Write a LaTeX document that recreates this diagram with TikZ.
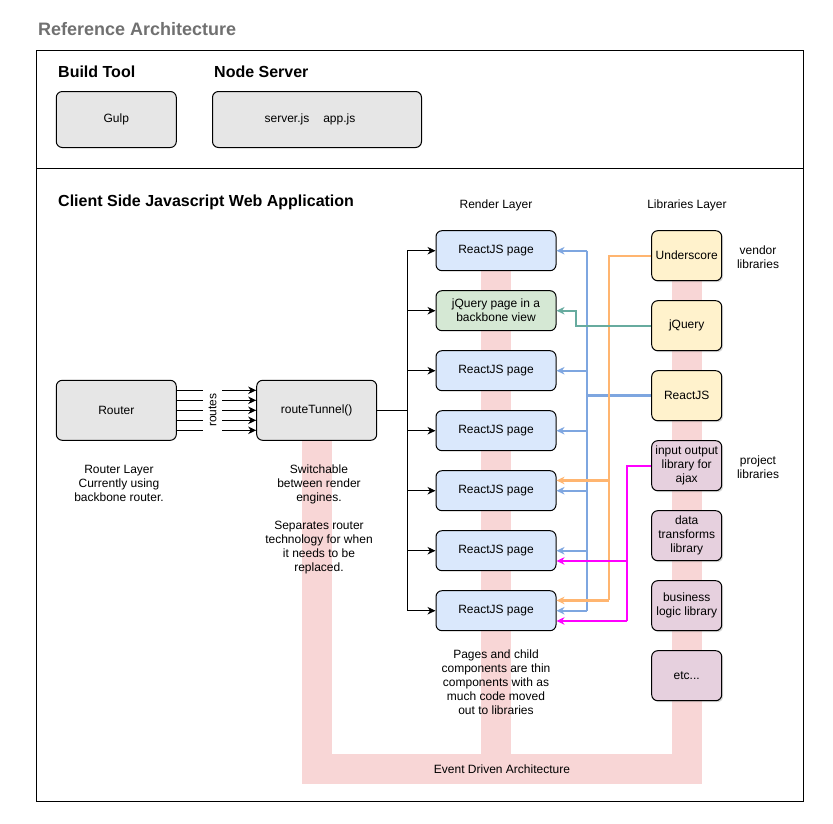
\documentclass[tikz,border=0pt]{standalone}
\usepackage{fontspec}
\setmainfont{Liberation Sans}
\usetikzlibrary{arrows.meta,calc,shadows}

\pgfdeclarelayer{back}
\pgfsetlayers{back,main}

\definecolor{greyfill}{HTML}{E6E6E6}
\definecolor{pagefill}{HTML}{DAE8FC}
\definecolor{viewfill}{HTML}{D5E8D4}
\definecolor{vendfill}{HTML}{FFF2CC}
\definecolor{projfill}{HTML}{E6D0DE}
\definecolor{bandpink}{HTML}{F8D6D6}
\definecolor{blueline}{HTML}{7EA6E0}
\definecolor{orangeline}{HTML}{FFB570}
\definecolor{greenline}{HTML}{67AB9F}
\definecolor{magline}{HTML}{FF00FF}
\definecolor{titlegrey}{HTML}{707070}

\begin{document}
\begin{tikzpicture}
      [x=1pt,y=-1pt
      ,every node/.style={font=\fontsize{12}{14}\selectfont,align=center}
      ,heading/.style={font=\bfseries\fontsize{16}{18}\selectfont,anchor=west,inner sep=0pt}
      ,box/.style={draw,line width=1pt,rounded corners=6pt,inner sep=2pt}
      ,greybox/.style={box,fill=greyfill,minimum width=120pt,minimum height=56pt}
      ,pagebox/.style={box,fill=pagefill,minimum width=120pt,minimum height=40pt}
      ,libbox/.style={box,minimum width=70pt,minimum height=50pt
          ,drop shadow={shadow xshift=1.5pt,shadow yshift=-1.5pt,opacity=.3}}
      ,vendbox/.style={libbox,fill=vendfill}
      ,projbox/.style={libbox,fill=projfill}
      ,arrowed/.style={-{Stealth[length=8pt,width=7.5pt,inset=2.5pt]}}
      ,blk/.style={line width=1pt}
      ,blueln/.style={color=blueline,line width=2.2pt}
      ,orangeln/.style={color=orangeline,line width=2.2pt}
      ,magln/.style={color=magline,line width=2.2pt}
      ,greenln/.style={color=greenline,line width=2.2pt}
      ,band/.style={color=bandpink,line width=30pt}
      ]
        \useasboundingbox (0,0) rectangle (833,823);

        % frames and headings
        \node[heading,font=\bfseries\fontsize{18}{20}\selectfont,text=titlegrey] (title) at (38,29) {Reference Architecture};
        \draw[blk] (36.7,50.7) rectangle (803,168.3);
        \draw[blk] (36.7,168.3) rectangle (803,801);
        \node[heading] (buildhd) at (58,72) {Build Tool};
        \node[heading] (serverhd) at (214,72) {Node Server};
        \node[heading] (clienthd) at (58,202) {Client Side Javascript Web Application};

        % top row
        \node[greybox] (gulp) at (116.3,119.5) {Gulp};
        \node[greybox,minimum width=209pt] (nodesrv) at (317,119.5) {server.js\hspace{14pt}app.js\hspace*{14pt}};

        % router layer
        \node[greybox,minimum height=60pt] (router) at (116.3,410.3) {Router};
        \node[greybox,minimum height=60pt] (tunnel) at (316.7,410.3) {routeTunnel()};
        \node (routertxt) at (119,483.5) {Router Layer\\Currently using\\backbone router.};
        \node (tunneltxt) at (319,519.5) {Switchable\\between render\\engines.\\[14pt]Separates router\\technology for when\\it needs to be\\replaced.};

        % render layer
        \node (rlayer) at (496,205.5) {Render Layer};
        \foreach \i in {1,3,4,5,6,7}
          \node[pagebox] (rp\i) at (496,190.7+60*\i) {ReactJS page};
        \node[pagebox,fill=viewfill] (rp2) at (496,310.7) {jQuery page in a\\backbone view};
        \node (pagestxt) at (496,682.5) {Pages and child\\components are thin\\components with as\\much code moved\\out to libraries};

        % libraries layer
        \node (llayer) at (687,205.5) {Libraries Layer};
        \node[vendbox] (under) at (686.7,255.7) {Underscore};
        \node[vendbox] (jq) at (686.7,325.7) {jQuery};
        \node[vendbox] (react) at (686.7,395.7) {ReactJS};
        \node[projbox] (io) at (686.7,465.7) {input output\\library for\\ajax};
        \node[projbox] (transf) at (686.7,535.7) {data\\transforms\\library};
        \node[projbox] (logic) at (686.7,605.7) {business\\logic library};
        \node[projbox] (etc) at (686.7,675.7) {etc...};
        \node (vend) at (758,257.5) {vendor\\libraries};
        \node (proj) at (758,467.5) {project\\libraries};

        \node (eda) at (502,769) {Event Driven Architecture};

        % routes
        \foreach \d in {-20,-10,0,10,20}
          \draw[blk,arrowed] ([yshift=\d]router.east) -- ([yshift=\d]tunnel.west);
        \node[fill=white,rotate=90,inner sep=0pt,minimum width=46pt,minimum height=19pt] (routes)
          at ($(router.east)!.45!(tunnel.west)$) {routes};

        % tunnel to pages
        \coordinate (rbus) at (407,0);
        \draw[blk] (tunnel.east) -- (tunnel.east -| rbus);
        \draw[blk] (rp1.west -| rbus) -- (rp7.west -| rbus);
        \foreach \i in {1,...,7}
          \draw[blk,arrowed] (rp\i.west -| rbus) -- (rp\i.west);

        % ReactJS
        \coordinate (bbus) at (587,0);
        \draw[blueln] (rp1.east -| bbus) -- (rp7.east -| bbus);
        \foreach \i in {1,3,4,5,6,7}
          \draw[blueln,arrowed] (rp\i.east -| bbus) -- (rp\i.east);
        \draw[blueln,line width=3.5pt] (react.west) -- (react.west -| bbus);

        % Underscore
        \coordinate (obus) at (609,0);
        \coordinate (o5) at ($(rp5.north east)!.25!(rp5.south east)$);
        \coordinate (o7) at ($(rp7.north east)!.25!(rp7.south east)$);
        \draw[orangeln] (under.west) -| (o7 -| obus);
        \draw[orangeln,arrowed] (o5 -| obus) -- (o5);
        \draw[orangeln,arrowed] (o7 -| obus) -- (o7);

        % input output library
        \coordinate (mbus) at (627,0);
        \coordinate (m6) at ($(rp6.north east)!.75!(rp6.south east)$);
        \coordinate (m7) at ($(rp7.north east)!.75!(rp7.south east)$);
        \draw[magln] (io.west) -| (m7 -| mbus);
        \draw[magln,arrowed] (m6 -| mbus) -- (m6);
        \draw[magln,arrowed] (m7 -| mbus) -- (m7);

        % jQuery
        \coordinate (gbus) at (576,0);
        \draw[greenln,arrowed] (jq.west) -| (gbus |- rp2.east) -- (rp2.east);

        % event bands
        \begin{pgfonlayer}{back}
          \draw[band] (tunnel.center) |- (etc.center |- eda) -- (under.center);
          \draw[band] (rp1.center) -- (rp1.center |- eda);
        \end{pgfonlayer}
      \end{tikzpicture}
\end{document}
